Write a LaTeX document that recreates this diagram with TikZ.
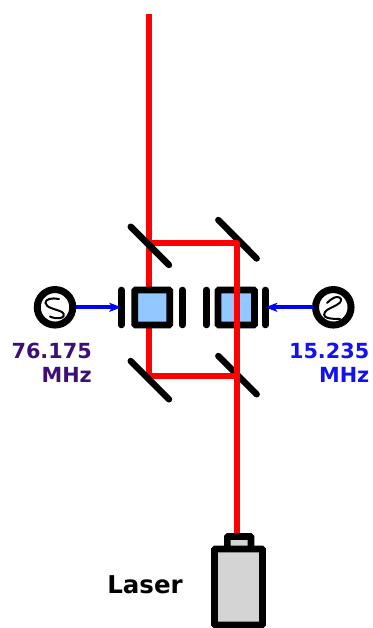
\documentclass[tikz,border=0pt]{standalone}
\usepackage{fontspec}
\setmainfont{DejaVu Sans}
\usetikzlibrary{arrows.meta}
\definecolor{lab1}{HTML}{3C1078}
\definecolor{lab2}{HTML}{1212F0}
\definecolor{aomblue}{HTML}{90C8FF}
\definecolor{lasergray}{HTML}{D4D4D4}
\tikzset{
  beam/.style={draw=red,line width=6.4pt},
  mirror/.style={draw=black,line width=6.4pt,line cap=round},
  plate/.style={draw=black,line width=6.6pt,line cap=round},
  aom/.style={draw=black,fill=aomblue,line width=6.6pt,rounded corners=0.8pt},
  src/.style={circle,draw=black,line width=7pt,minimum size=35.5pt,inner sep=0pt,outer sep=0pt,fill=white},
  rf/.style={draw=blue,line width=4pt,-{Stealth[length=12pt,width=9pt,inset=3pt]}},
  wave/.style={draw=black,line width=2pt,line cap=round},
  lab/.style={font=\bfseries\fontsize{20.8}{24}\selectfont,inner sep=0pt,align=right,anchor=north east},
  laserbox/.style={draw=black,fill=lasergray,line width=6.6pt,rounded corners=0.8pt}
}
\begin{document}
\begin{tikzpicture}[x=1pt,y=-1pt]
\useasboundingbox (0,0) rectangle (372,628);
% coordinates
\coordinate (top) at (149,14);
\coordinate (tl) at (149,243);
\coordinate (tr) at (236.8,243);
\coordinate (bl) at (149,376);
\coordinate (br) at (236.8,376);
\coordinate (las) at (236.8,536);
% mirrors behind beams (right side)
\draw[mirror] (218.3,220) coordinate (m2a) -- (256.7,258.5) coordinate (m2b);
\draw[mirror] (218.3,356) coordinate (m4a) -- (256.7,394.3) coordinate (m4b);
% left beam and folded paths
\draw[beam] (top) -- (bl);
\draw[beam] (tl) -- (tr);
\draw[beam] (bl) -- (br);
% mirrors over left beam
\draw[mirror] (130.7,226.7) coordinate (m1a) -- (169,265) coordinate (m1b);
\draw[mirror] (130.7,361) coordinate (m3a) -- (169,399.3) coordinate (m3b);
% AOMs
\draw[aom] (134.7,290) rectangle (169.7,325);
\draw[aom] (218,290) rectangle (254.5,325);
% plates
\draw[plate] (121.3,290) coordinate (p1a) -- (121.3,325) coordinate (p1b);
\draw[plate] (182.3,290) coordinate (p2a) -- (182.3,325) coordinate (p2b);
\draw[plate] (206.3,290) coordinate (p3a) -- (206.3,325) coordinate (p3b);
\draw[plate] (265.3,290) coordinate (p4a) -- (265.3,325) coordinate (p4b);
% right beam over AOM
\draw[beam,line cap=round] (tr) -- (br);
\draw[beam] (br) -- (las);
% sources
\node[src] (s1) at (55,307.3) {};
\node[src] (s2) at (333.3,307.3) {};
\draw[wave] (59,299) .. controls (52,297.5) and (45,299) .. (45.5,303) .. controls (46,308) and (56,309) .. (62,312) .. controls (65,314) and (64,318) .. (60,318) .. controls (57,318.5) and (53,318) .. (50,316.5);
\draw[wave] (327,303) .. controls (330,300) and (334,297) .. (337,297) .. controls (341,297) and (342,300) .. (340,302.5) .. controls (337,305.5) and (330,308) .. (327,310) .. controls (323,313) and (323,317) .. (328,318) .. controls (332,319) and (337,319) .. (340,319);
% RF lines
\draw[rf] (s1.east) ++(3,0) coordinate (r1) (r1) -- (p1a |- s1.east);
\draw[rf] (s2.west) ++(-3,0) coordinate (r2) (r2) -- (p4a |- s2.west);
% labels
\node[lab,text=lab1] (t1) at (92,343) {76.175\\MHz};
\node[lab,text=lab2] (t2) at (369.5,343) {15.235\\MHz};
% laser
\draw[laserbox] (227.3,536.5) rectangle (251,552);
\draw[laserbox] (214.5,549) rectangle (262.5,625);
\node[font=\bfseries\fontsize{24.5}{28}\selectfont,inner sep=0pt] (lt) at (145,585) {Laser};
\end{tikzpicture}
\end{document}
